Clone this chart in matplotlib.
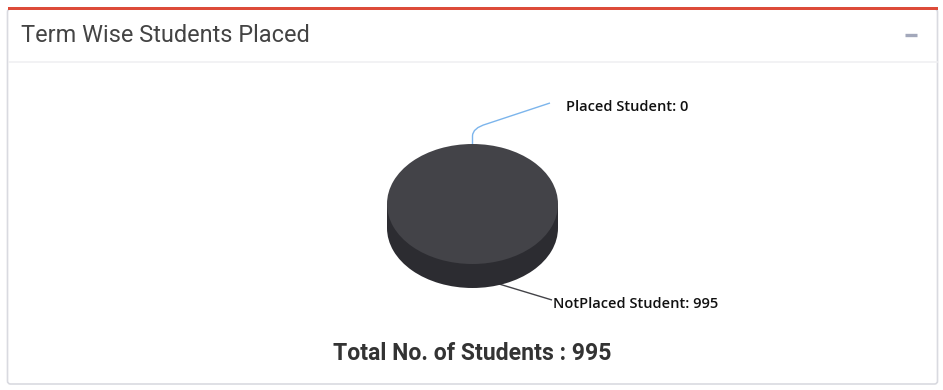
import matplotlib
matplotlib.use("Agg")
import matplotlib.pyplot as plt
import numpy as np
from matplotlib.patches import FancyBboxPatch, Rectangle
from matplotlib.path import Path
from matplotlib.patches import PathPatch

# Data
categories = ["Placed Student", "NotPlaced Student"]
counts = [0, 995]
top_colors = ["#7cb5ec", "#434348"]
side_colors = ["#5a88b5", "#2c2c31"]
connector_colors = ["#7cb5ec", "#434348"]
title = "Term Wise Students Placed"
total_text = "Total No. of Students : {}".format(sum(counts))

W, H = 943, 390
fig = plt.figure(figsize=(W / 100, H / 100), dpi=100)
fig.patch.set_facecolor("white")

# Pixel-space canvas for the panel chrome and labels
base = fig.add_axes([0, 0, 1, 1])
base.set_xlim(0, W)
base.set_ylim(H, 0)
base.axis("off")

# Panel box with shadow and red top border
base.add_patch(FancyBboxPatch((7.5, 9), 930, 375, boxstyle="round,pad=0,rounding_size=3",
                              facecolor="white", edgecolor="#d9dae0", lw=1.2, zorder=1))
base.add_patch(Rectangle((7.5, 7), 930, 3.2, facecolor="#dd4b39", edgecolor="none", zorder=3))
base.plot([8.5, 937], [62, 62], color="#f0f0f2", lw=1.2, zorder=2)
base.text(21, 36, title, fontsize=16.9, family="Roboto", color="#444444",
          va="center", ha="left", zorder=4)
base.plot([905, 917], [35, 35], color="#a3a8bb", lw=2.4, solid_capstyle="butt", zorder=4)

# Pie geometry in pixels
cx, cy = 472.5, 204.0
rx, ry = 85.5, 60.0
depth = 24.0

# Pie axes: x unit = rx px, y unit = ry px
px_left, px_right = cx - rx, cx + rx
py_top, py_bot = cy - ry, cy + ry + depth
pie_ax = fig.add_axes([px_left / W, 1 - py_bot / H, (px_right - px_left) / W, (py_bot - py_top) / H])
pie_ax.axis("off")

d = depth / ry
nz = [c if c > 0 else 1e-9 for c in counts]
# Side of the cylinder
pie_ax.pie(nz, colors=side_colors, startangle=90, counterclock=False, radius=1,
           center=(0, -d), frame=False, wedgeprops=dict(linewidth=0))
pie_ax.add_patch(Rectangle((-1, -d), 2, d, facecolor=side_colors[1], edgecolor="none", zorder=1))
# Top face
pie_ax.pie(nz, colors=top_colors, startangle=90, counterclock=False, radius=1,
           center=(0, 0), frame=False, wedgeprops=dict(linewidth=0, zorder=3))
pie_ax.set_aspect("auto")
pie_ax.set_xlim(-1, 1)
pie_ax.set_ylim(-1 - d, 1)
pie_ax.axis("off")

# Data labels with connectors
total = sum(counts)
start = 90.0
cum = 0.0
label_pos = [(566, 107), (553, 304)]
for i, (cat, c) in enumerate(zip(categories, counts)):
    mid = start - 360.0 * (cum + c / 2) / total
    cum += c
    ax_x = cx + rx * np.cos(np.radians(mid))
    ax_y = cy - ry * np.sin(np.radians(mid))
    lx, ly = label_pos[i]
    if ax_y < cy:
        verts = [(ax_x, ax_y), (ax_x, ax_y - 8), (ax_x, ax_y - 16), (ax_x + 14, ax_y - 20), (lx - 16, ly - 4)]
    else:
        verts = [(ax_x, ax_y), (ax_x, ax_y + 6), (ax_x + 1, ax_y + 12), (ax_x + 10, ax_y + 15), (lx - 1, ly - 4)]
    codes = [Path.MOVETO, Path.LINETO, Path.CURVE3, Path.CURVE3, Path.LINETO]
    base.add_patch(PathPatch(Path(verts, codes), facecolor="none", edgecolor=connector_colors[i],
                             lw=1.0, zorder=6))
    base.text(lx, ly, "{}: {}".format(cat, c), fontsize=10.5, family="Open Sans", weight="semibold",
              color="#111111", va="center", ha="left", zorder=6)

base.text(cx, 353, total_text, fontsize=16.6, family="Roboto", weight="bold", color="#333333",
          va="center", ha="center", zorder=4)

fig.savefig("out.png", dpi=100)
